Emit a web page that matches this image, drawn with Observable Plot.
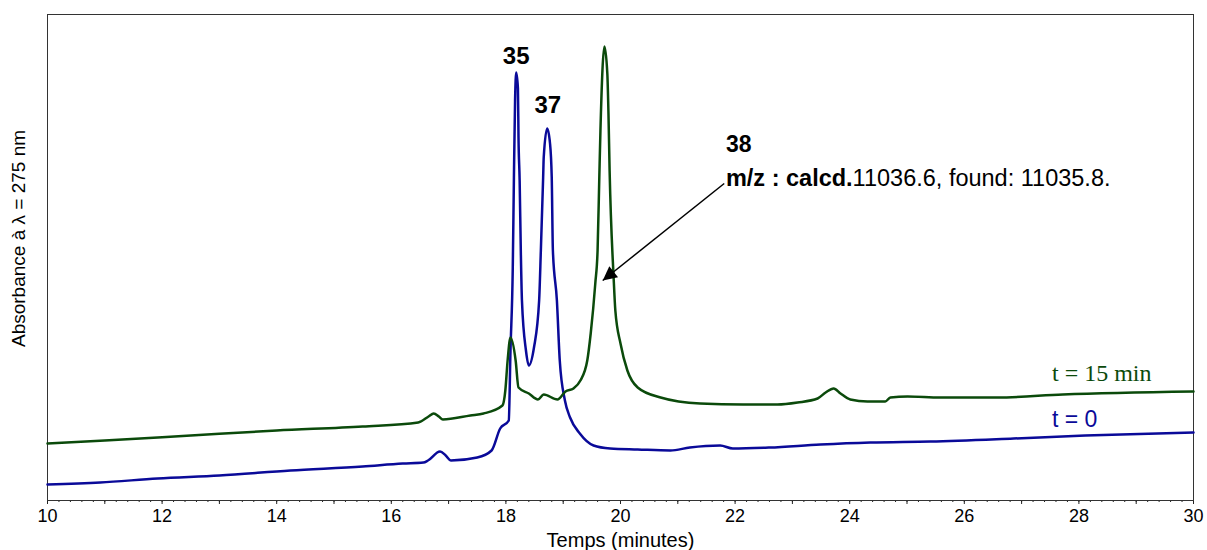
<!DOCTYPE html>
<html>
<head>
<meta charset="utf-8">
<script src="https://cdn.jsdelivr.net/npm/d3@7"></script>
<script src="https://cdn.jsdelivr.net/npm/@observablehq/plot@0.6"></script>
<style>
  html, body { margin: 0; padding: 0; background: #fff; }
  #chart svg { display: block; }
</style>
</head>
<body>
<div id="chart"></div>
<script>
// ---- Data (retention time in minutes, absorbance in arbitrary units) ----
const t0Time = [10.00,10.92,11.92,13.00,14.24,15.50,16.20,16.56,16.64,16.85,16.95,17.04,17.50,17.75,17.90,18.05,18.08,18.12,18.14,18.16,18.18,18.21,18.22,18.24,18.26,18.28,18.35,18.40,18.49,18.58,18.61,18.65,18.66,18.72,18.77,18.80,18.82,18.89,18.94,19.03,19.12,19.29,19.53,19.82,20.30,20.87,21.21,21.74,21.96,22.60,23.49,24.36,25.41,26.86,28.11,30.00];
const t0Abs  = [16,18,22,25,30,34,37,38,40,49,45,40,43,50,72,80,150,233,323,400,428,412,363,320,250,200,150,135,153,200,250,323,343,372,357,323,250,200,140,100,83,67,55,52,51,50,53,55,52,53,56,58,59,62,65,68];

const t15Time = [10.00,11.00,12.50,14.00,15.50,16.47,16.65,16.74,16.83,16.90,17.38,17.61,17.94,17.99,18.03,18.08,18.17,18.22,18.40,18.56,18.66,18.90,19.04,19.18,19.30,19.42,19.48,19.56,19.60,19.63,19.65,19.72,19.77,19.79,19.81,19.88,19.91,20.00,20.12,20.30,20.70,21.39,22.14,22.74,23.09,23.44,23.58,23.72,23.84,24.01,24.31,24.62,24.71,25.01,25.58,26.58,27.72,30.00];
const t15Abs  = [57,60,65,70,74,78,84,87,84,81,85,87,95,110,140,163,140,113,107,101,106,101,109,112,120,140,167,217,250,323,370,454,427,387,330,223,190,157,130,113,103,97,96,96,98,102,108,112,107,101,99,99,103,104,103,103,106,109];

const labelTicks = [10,12,14,16,18,20,22,24,26,28,30];
const xLabel = "Temps (minutes)";
const yLabel = "Absorbance à λ = 275 nm";

const peakLabels = ["35", "37"];
const peakTimes  = [18.18, 18.73];
const peakLabelAbs = [437, 388];

const annoTitle = "38";
const annoBold = "m/z : calcd.";
const annoRest = "11036.6, found: 11035.8.";
const annoTime = 21.84;
const annoAbs = [349, 315];
const arrowFrom = [21.81, 317];
const arrowTo = [19.69, 220];

const seriesNames = ["t = 15 min", "t = 0"];
const seriesLabelTime = 27.53;
const seriesLabelAbs = [120, 74];

const blue = "#0a0a99";
const green = "#0b4a0b";

// ---- Build tables ----
const t0 = t0Time.map((t, i) => ({t, a: t0Abs[i]}));
const t15 = t15Time.map((t, i) => ({t, a: t15Abs[i]}));
const wholeTicks = d3.range(10, 30.001, 1);
const minorTicks = d3.range(0, 101).map(i => 10 + i * 0.2);

const plot = Plot.plot({
  width: 1207,
  height: 550,
  marginLeft: 47,
  marginRight: 14,
  marginTop: 14,
  marginBottom: 50,
  style: {fontFamily: "'Liberation Sans', Arial, sans-serif", color: "#000", background: "#fff"},
  x: {domain: [10, 30], axis: null},
  y: {domain: [0, 486], axis: null},
  marks: [
    Plot.axisX({ticks: minorTicks, tickSize: 2, tickFormat: () => "", label: null, stroke: "#222"}),
    Plot.axisX({ticks: wholeTicks, tickSize: 4, tickFormat: () => "", label: null, stroke: "#222"}),
    Plot.axisX({ticks: labelTicks, tickSize: 0, tickPadding: 9, fontSize: 18, label: null, tickFormat: d => String(d)}),
    Plot.frame({stroke: "#333", strokeWidth: 1}),
    Plot.line(t0, {x: "t", y: "a", stroke: blue, strokeWidth: 2.5, curve: "monotone-x"}),
    Plot.line(t15, {x: "t", y: "a", stroke: green, strokeWidth: 2.5, curve: "monotone-x"}),
    Plot.text(peakLabels, {x: (d, i) => peakTimes[i], y: (d, i) => peakLabelAbs[i], text: d => d, fontSize: 24, fontWeight: "bold", lineAnchor: "bottom", textAnchor: "middle", fill: "#000"}),
    Plot.text([annoTitle], {x: annoTime, y: annoAbs[0], text: d => d, fontSize: 23, fontWeight: "bold", lineAnchor: "bottom", textAnchor: "start", fill: "#000"}),
    Plot.text([annoBold + annoRest], {x: annoTime, y: annoAbs[1], text: d => d, fontSize: 23.5, lineAnchor: "bottom", textAnchor: "start", fill: "#000"}),
    Plot.link([0], {x1: arrowFrom[0], y1: arrowFrom[1], x2: arrowTo[0], y2: arrowTo[1], stroke: "#000", strokeWidth: 1.5}),
    Plot.text([seriesNames[0]], {x: seriesLabelTime, y: seriesLabelAbs[0], text: d => d, fontSize: 24, fontFamily: "'Liberation Serif', 'Times New Roman', serif", lineAnchor: "bottom", textAnchor: "start", fill: green}),
    Plot.text([seriesNames[1]], {x: seriesLabelTime, y: seriesLabelAbs[1], text: d => d, fontSize: 23, lineAnchor: "bottom", textAnchor: "start", fill: blue}),
    Plot.text([yLabel], {frameAnchor: "left", textAnchor: "middle", dx: -28.5, dy: -19, rotate: -90, fontSize: 19, text: d => d, fill: "#000"}),
    Plot.text([xLabel], {frameAnchor: "bottom", textAnchor: "middle", dy: 46, fontSize: 20, text: d => d, fill: "#000"})
  ]
});

// Mixed bold / normal annotation line
d3.select(plot).selectAll("text").each(function() {
  if (this.textContent === annoBold + annoRest) {
    const sel = d3.select(this);
    sel.text(null);
    sel.append("tspan").attr("font-weight", "bold").text(annoBold);
    sel.append("tspan").text(annoRest);
  }
});

// Filled arrowhead
const svg = d3.select(plot);
const defs = svg.insert("defs", ":first-child");
defs.append("marker")
  .attr("id", "arrowhead")
  .attr("viewBox", "0 0 10 10")
  .attr("refX", 10).attr("refY", 5)
  .attr("markerWidth", 18).attr("markerHeight", 14)
  .attr("markerUnits", "userSpaceOnUse")
  .attr("orient", "auto")
  .append("path").attr("d", "M0,0L10,5L0,10Z").attr("fill", "#000");
svg.selectAll("g[aria-label='link'] path").attr("marker-end", "url(#arrowhead)");

document.getElementById("chart").appendChild(plot);
</script>
</body>
</html>
